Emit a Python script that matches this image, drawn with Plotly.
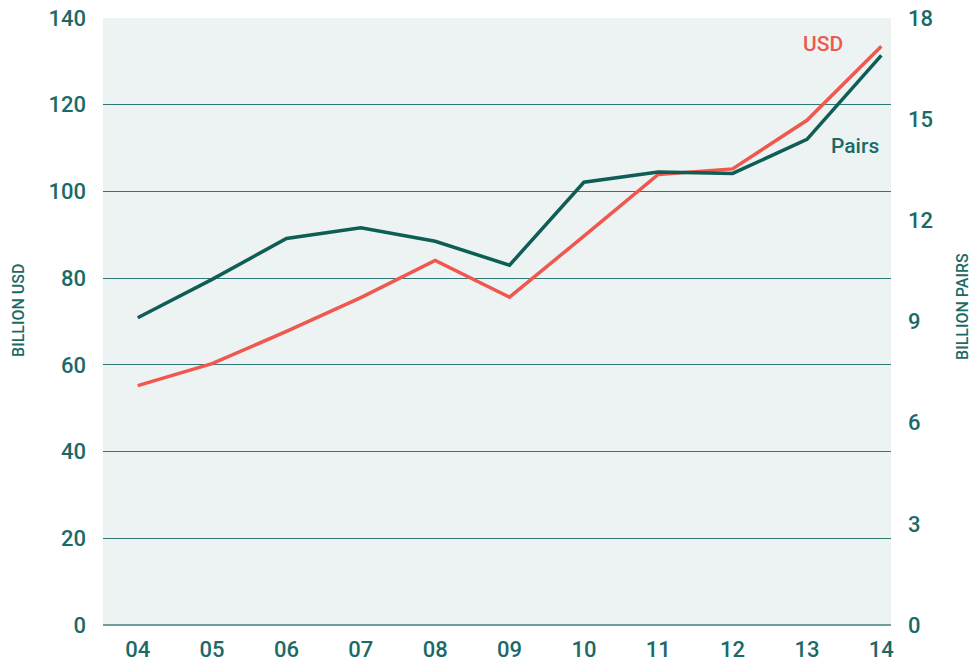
import plotly.graph_objects as go

years = ["04", "05", "06", "07", "08", "09", "10", "11", "12", "13", "14"]
usd_billion = [55.2, 60.3, 67.7, 75.5, 84.1, 75.6, 89.7, 103.9, 105.2, 116.4, 133.5]
pairs_billion = [9.11, 10.25, 11.46, 11.78, 11.38, 10.67, 13.13, 13.43, 13.39, 14.40, 16.89]
usd_ticks = [0, 20, 40, 60, 80, 100, 120, 140]
pairs_ticks = [0, 3, 6, 9, 12, 15, 18]

TEAL = "#0f5e56"
TEXT = "#1b6a67"
RED = "#f0584f"
BG = "#edf3f2"
FONT = "Roboto"

tick_font = dict(family=FONT, size=22, color=TEXT, weight=500)
title_font = dict(family=FONT, size=16, color=TEXT, weight=500)

fig = go.Figure()
fig.add_trace(go.Scatter(x=years, y=usd_billion, mode="lines", name="USD",
                         line=dict(color=RED, width=3.5), yaxis="y"))
fig.add_trace(go.Scatter(x=years, y=pairs_billion, mode="lines", name="Pairs",
                         line=dict(color=TEAL, width=3.5), yaxis="y2"))

fig.add_annotation(x=9.22, y=133.9, xref="x", yref="y", text="USD", showarrow=False,
                   font=dict(family=FONT, size=21, color=RED, weight=500))
fig.add_annotation(x=9.65, y=110.4, xref="x", yref="y", text="Pairs", showarrow=False,
                   font=dict(family=FONT, size=21, color=TEXT, weight=500))
fig.add_annotation(x=-0.1066, y=0.519, xref="paper", yref="paper", text="BILLION USD",
                   showarrow=False, textangle=-90, xanchor="center", yanchor="middle",
                   font=title_font)
fig.add_annotation(x=1.0914, y=0.524, xref="paper", yref="paper", text="BILLION PAIRS",
                   showarrow=False, textangle=-90, xanchor="center", yanchor="middle",
                   font=title_font)

fig.update_layout(
    width=977, height=663,
    margin=dict(l=103, r=86, t=18, b=38),
    paper_bgcolor="white", plot_bgcolor=BG,
    showlegend=False,
    font=dict(family=FONT, color=TEXT, size=21),
    xaxis=dict(type="category", range=[-0.467, 10.13], showgrid=False, zeroline=False,
               showline=False, ticks="", ticklabelstandoff=9, automargin=False,
               ticklabeloverflow="allow", tickfont=tick_font),
    yaxis=dict(range=[0, 140], tickvals=usd_ticks, showgrid=True, gridcolor="#2f7876",
               gridwidth=1.2, zeroline=True, zerolinecolor="#6f9d9b", zerolinewidth=1.5,
               showline=False, ticks="", ticklabelstandoff=16, automargin=False,
               ticklabeloverflow="allow", tickfont=tick_font),
    yaxis2=dict(range=[0, 18], tickvals=pairs_ticks, overlaying="y", side="right",
                showgrid=False, zeroline=False, showline=False, ticks="", ticklabelstandoff=16,
                automargin=False, ticklabeloverflow="allow", tickfont=tick_font),
)

fig.write_html("out.html", config={"displayModeBar": False},
               post_script="document.body.style.margin='0';")
